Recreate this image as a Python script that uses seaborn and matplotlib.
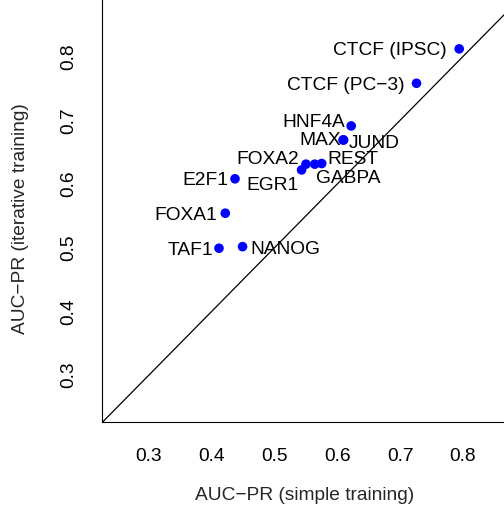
import matplotlib
matplotlib.use("Agg")
import matplotlib.pyplot as plt
import seaborn as sns
import pandas as pd

# ---- data ----
labels = ["CTCF (IPSC)", "CTCF (PC\u22123)", "HNF4A", "MAX", "JUND", "REST",
          "GABPA", "FOXA2", "EGR1", "E2F1", "FOXA1", "TAF1", "NANOG"]
simple = [0.794, 0.726, 0.622, 0.609, 0.610, 0.575,
          0.564, 0.550, 0.543, 0.437, 0.4215, 0.4115, 0.449]
iterative = [0.812, 0.758, 0.691, 0.669, 0.669, 0.632,
             0.631, 0.631, 0.622, 0.608, 0.554, 0.499, 0.5015]
ticks = [0.3, 0.4, 0.5, 0.6, 0.7, 0.8]

# label placement (pixel offsets from the point; alignment)
label_dx = [-12, -12, -6, -2, 5, 6, 1, -7, -3, -7, -8, -6, 8]
label_dy = [0, 0, 5, 1, -2, 6, -12, 7, -14, 0, 0, 0, -1]
label_ha = ["right", "right", "right", "right", "left", "left", "left",
            "right", "right", "right", "right", "right", "left"]

df = pd.DataFrame({"simple": simple, "iterative": iterative, "label": labels})

sns.set_theme(style="white")
plt.rcParams["font.family"] = ["Liberation Sans", "DejaVu Sans"]
FS = 13.8

fig = plt.figure(figsize=(5.04, 5.18), dpi=100)
# plot region: left 102px, bottom 421.7px, extends past top/right of the image
ax_h = 421.7 + 10
ax_w = 520 - 102
ax = fig.add_axes([102 / 504, (518 - 421.7) / 518, ax_w / 504, ax_h / 518])

sns.scatterplot(data=df, x="simple", y="iterative", color="#0000FF", s=48,
                edgecolor="none", linewidth=0, ax=ax, zorder=3)

ax.set_xlim(0.2252, 0.2252 + ax_w / 628)
ax.set_ylim(0.2267, 0.2267 + ax_h / 637)
ax.axline((0, 0), slope=1, color="black", lw=0.9, zorder=2)

px = 0.72
for lab, x, y, dx, dy, ha in zip(labels, simple, iterative, label_dx, label_dy, label_ha):
    ax.annotate(lab, (x, y), xytext=(dx * px, dy * px), textcoords="offset points",
                ha=ha, va="center_baseline", fontsize=FS, color="black", zorder=4)

ax.set_xticks(ticks)
ax.set_yticks(ticks)
ax.set_xticklabels([str(t) for t in ticks])
ax.set_yticklabels([str(t) for t in ticks], rotation=90, va="center")

for s in ["top", "right"]:
    ax.spines[s].set_visible(False)
for s in ["left", "bottom"]:
    ax.spines[s].set_color("black")
    ax.spines[s].set_linewidth(0.8)

ax.tick_params(axis="both", direction="out", length=8, width=0.7, color="black",
               labelsize=FS, labelcolor="black")
ax.tick_params(axis="x", pad=11)
ax.tick_params(axis="y", pad=10)

ax.set_xlabel("AUC\u2212PR (simple training)", fontsize=FS)
ax.set_ylabel("AUC\u2212PR (iterative training)", fontsize=FS)
ax.xaxis.set_label_coords((304.5 - 102) / ax_w, (421.7 - 496) / ax_h)
ax.xaxis.label.set_va("center")
ax.yaxis.set_label_coords((21 - 102) / ax_w, (421.7 - 219) / ax_h)
ax.yaxis.label.set_va("center")

fig.savefig("out.png", dpi=100)
